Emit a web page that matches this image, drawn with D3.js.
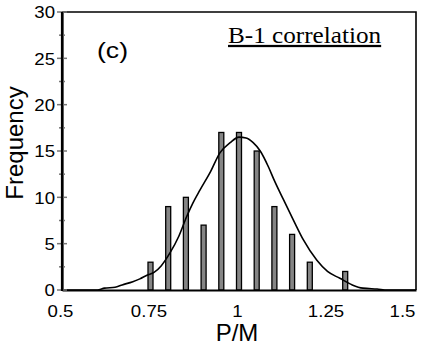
<!DOCTYPE html>
<html>
<head>
<meta charset="utf-8">
<script src="https://cdn.jsdelivr.net/npm/d3@7"></script>
<style>
  html, body { margin: 0; padding: 0; background: #fff; }
  svg { display: block; }
  text { font-weight: 400; }
</style>
</head>
<body>
<svg id="chart" width="423" height="347"></svg>
<script>
// ---- data ----
const binCenters = [0.75, 0.80, 0.85, 0.90, 0.95, 1.00, 1.05, 1.10, 1.15, 1.20, 1.30];
const frequencies = [3, 9, 10, 7, 17, 17, 15, 9, 6, 3, 2];
const curveX = [0.5, 0.6, 0.62, 0.65, 0.67, 0.70, 0.72, 0.74, 0.76, 0.78, 0.805, 0.83, 0.852, 0.87, 0.89, 0.92, 0.946, 0.975, 1.0, 1.02, 1.04, 1.06, 1.083, 1.10, 1.125, 1.153, 1.182, 1.22, 1.25, 1.285, 1.32, 1.35, 1.39, 1.42, 1.5];
const curveY = [0, 0, 0.2, 0.3, 0.55, 0.9, 1.2, 1.6, 1.9, 2.6, 4.0, 5.8, 7.9, 9.4, 10.8, 12.8, 14.8, 15.9, 16.5, 16.4, 15.9, 15.0, 13.3, 11.8, 9.8, 7.6, 5.4, 3.2, 2.0, 1.26, 0.55, 0.2, 0.1, 0, 0];
const xTickValues = [0.5, 0.75, 1, 1.25, 1.5];
const yMajorTicks = [0, 5, 10, 15, 20, 25, 30];
const yMinorTicks = [2.5, 7.5, 12.5, 17.5, 22.5, 27.5];
const xTitle = "P/M";
const yTitle = "Frequency";
const panelLabel = "(c)";
const legendText = "B-1 correlation";

// ---- layout ----
const svg = d3.select("#chart");
const mLeft = 62, mRight = 416, mTop = 12, mBottom = 290;
const x = d3.scaleLinear().domain([0.5, 1.5]).range([mLeft, mRight]);
const y = d3.scaleLinear().domain([0, 30]).range([mBottom, mTop]);
const sans = "'Liberation Sans', Arial, sans-serif";
const serif = "'Liberation Serif', 'Times New Roman', serif";
const stretch = 1.13;

// frame (top & right)
svg.append("path")
  .attr("d", `M${mLeft},${mTop}H${mRight}V${mBottom}`)
  .attr("fill", "none").attr("stroke", "#000").attr("stroke-width", 1.6);

// bars
const barW = 5;
svg.append("g").selectAll("rect")
  .data(binCenters.map((c, i) => ({c, f: frequencies[i]})))
  .join("rect")
  .attr("x", d => x(d.c) - barW / 2)
  .attr("y", d => y(d.f))
  .attr("width", barW)
  .attr("height", d => y(0) - y(d.f))
  .attr("fill", "#858585")
  .attr("stroke", "#000")
  .attr("stroke-width", 1.3);

// curve
const line = d3.line().x(d => x(d[0])).y(d => y(d[1])).curve(d3.curveMonotoneX);
svg.append("path")
  .datum(curveX.map((v, i) => [v, curveY[i]]))
  .attr("d", line)
  .attr("fill", "none").attr("stroke", "#000").attr("stroke-width", 1.6);

// x axis
const xAxis = svg.append("g").attr("transform", `translate(0,${mBottom})`)
  .call(d3.axisBottom(x).tickValues(xTickValues).tickSize(0).tickPadding(0)
    .tickFormat(d => String(d)));
xAxis.select(".domain").attr("stroke", "#000").attr("stroke-width", 2.2);
xAxis.selectAll("text")
  .attr("font-family", sans).attr("font-size", 16.5).attr("fill", "#000")
  .attr("y", 0).attr("dy", 0)
  .attr("transform", (d, i) => `translate(${i === xTickValues.length - 1 ? -14 : -2},27) scale(${stretch},1)`);

// y axis
const yAxis = svg.append("g").attr("transform", `translate(${mLeft},0)`)
  .call(d3.axisLeft(y).tickValues(yMajorTicks).tickSize(0).tickPadding(0));
yAxis.select(".domain").attr("stroke", "#000").attr("stroke-width", 2.2);
yAxis.selectAll("text")
  .attr("font-family", sans).attr("font-size", 16.5).attr("fill", "#000")
  .attr("x", 0).attr("dy", "0.35em")
  .attr("transform", `translate(-7,0) scale(${stretch},1)`);
// tick marks crossing the axis
svg.append("g").selectAll("line.major").data(yMajorTicks).join("line")
  .attr("x1", mLeft - 5).attr("x2", mLeft + 5)
  .attr("y1", d => y(d)).attr("y2", d => y(d))
  .attr("stroke", "#777").attr("stroke-width", 1.5);
svg.append("g").selectAll("line.minor").data(yMinorTicks).join("line")
  .attr("x1", mLeft - 3).attr("x2", mLeft + 3)
  .attr("y1", d => y(d)).attr("y2", d => y(d))
  .attr("stroke", "#777").attr("stroke-width", 1.5);
// redraw axis line on top
svg.append("line").attr("x1", mLeft).attr("x2", mLeft).attr("y1", mTop).attr("y2", mBottom + 1)
  .attr("stroke", "#000").attr("stroke-width", 2.2);

// titles
svg.append("text").text(xTitle)
  .attr("transform", `translate(237,341)`)
  .attr("text-anchor", "middle")
  .attr("font-family", sans).attr("font-size", 24);
svg.append("text").text(yTitle)
  .attr("transform", `translate(23,143) rotate(-90)`)
  .attr("text-anchor", "middle")
  .attr("font-family", sans).attr("font-size", 24);

// panel label
svg.append("text").text(panelLabel)
  .attr("x", 97).attr("y", 58)
  .attr("font-family", sans).attr("font-size", 22)
  .attr("textLength", 31).attr("lengthAdjust", "spacingAndGlyphs");

// legend-like title, underlined serif
svg.append("text").text(legendText)
  .attr("transform", `translate(228,43) scale(1.12,1)`)
  .attr("font-family", serif).attr("font-size", 22.5)
  .style("text-decoration", "underline");
</script>
</body>
</html>
